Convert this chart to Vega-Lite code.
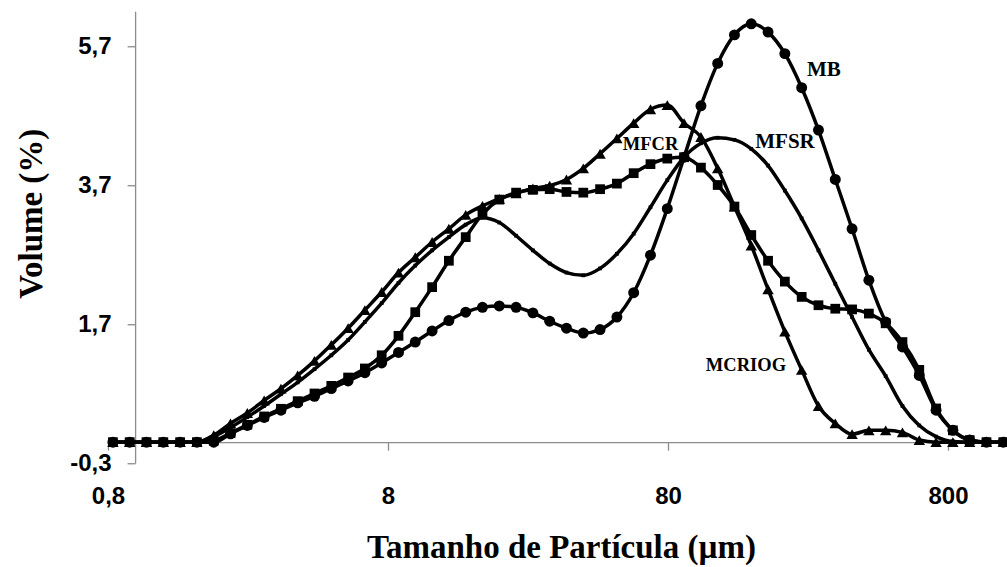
{
  "$schema": "https://vega.github.io/schema/vega-lite/v6.json",
  "width": 899,
  "height": 451.75,
  "autosize": "none",
  "padding": {"left": 108, "top": 11.25, "right": 0, "bottom": 104},
  "background": "white",
  "config": {"view": {"stroke": null}},
  "datasets": {
    "curvas": [
      {"tamanho": 0.833, "MB": 0, "MFCR": 0, "MCRIOG": 0, "MFSR": 0},
      {"tamanho": 0.956, "MB": 0, "MFCR": 0, "MCRIOG": 0, "MFSR": 0},
      {"tamanho": 1.098, "MB": 0, "MFCR": 0, "MCRIOG": 0, "MFSR": 0},
      {"tamanho": 1.261, "MB": 0, "MFCR": 0, "MCRIOG": 0, "MFSR": 0},
      {"tamanho": 1.448, "MB": 0, "MFCR": 0, "MCRIOG": 0, "MFSR": 0},
      {"tamanho": 1.662, "MB": 0, "MFCR": 0, "MCRIOG": 0, "MFSR": 0},
      {"tamanho": 1.909, "MB": 0, "MFCR": 0.02, "MCRIOG": 0.1, "MFSR": 0.08},
      {"tamanho": 2.191, "MB": 0.12, "MFCR": 0.13, "MCRIOG": 0.27, "MFSR": 0.21},
      {"tamanho": 2.516, "MB": 0.24, "MFCR": 0.25, "MCRIOG": 0.42, "MFSR": 0.36},
      {"tamanho": 2.889, "MB": 0.355, "MFCR": 0.37, "MCRIOG": 0.6, "MFSR": 0.52},
      {"tamanho": 3.317, "MB": 0.46, "MFCR": 0.48, "MCRIOG": 0.77, "MFSR": 0.69},
      {"tamanho": 3.807, "MB": 0.565, "MFCR": 0.59, "MCRIOG": 0.96, "MFSR": 0.86},
      {"tamanho": 4.371, "MB": 0.66, "MFCR": 0.7, "MCRIOG": 1.17, "MFSR": 1.05},
      {"tamanho": 5.019, "MB": 0.77, "MFCR": 0.81, "MCRIOG": 1.4, "MFSR": 1.25},
      {"tamanho": 5.763, "MB": 0.88, "MFCR": 0.93, "MCRIOG": 1.64, "MFSR": 1.47},
      {"tamanho": 6.616, "MB": 1.0, "MFCR": 1.06, "MCRIOG": 1.9, "MFSR": 1.73},
      {"tamanho": 7.596, "MB": 1.14, "MFCR": 1.25, "MCRIOG": 2.16, "MFSR": 2.0},
      {"tamanho": 8.722, "MB": 1.29, "MFCR": 1.53, "MCRIOG": 2.44, "MFSR": 2.29},
      {"tamanho": 10.01, "MB": 1.44, "MFCR": 1.87, "MCRIOG": 2.66, "MFSR": 2.54},
      {"tamanho": 11.5, "MB": 1.6, "MFCR": 2.23, "MCRIOG": 2.88, "MFSR": 2.76},
      {"tamanho": 13.2, "MB": 1.75, "MFCR": 2.61, "MCRIOG": 3.07, "MFSR": 2.95},
      {"tamanho": 15.16, "MB": 1.87, "MFCR": 2.95, "MCRIOG": 3.27, "MFSR": 3.13},
      {"tamanho": 17.4, "MB": 1.94, "MFCR": 3.28, "MCRIOG": 3.4, "MFSR": 3.23},
      {"tamanho": 19.98, "MB": 1.96, "MFCR": 3.49, "MCRIOG": 3.5, "MFSR": 3.16},
      {"tamanho": 22.94, "MB": 1.94, "MFCR": 3.59, "MCRIOG": 3.58, "MFSR": 2.97},
      {"tamanho": 26.34, "MB": 1.86, "MFCR": 3.63, "MCRIOG": 3.65, "MFSR": 2.76},
      {"tamanho": 30.24, "MB": 1.74, "MFCR": 3.64, "MCRIOG": 3.69, "MFSR": 2.57},
      {"tamanho": 34.72, "MB": 1.64, "MFCR": 3.6, "MCRIOG": 3.78, "MFSR": 2.44},
      {"tamanho": 39.87, "MB": 1.57, "MFCR": 3.59, "MCRIOG": 3.94, "MFSR": 2.4},
      {"tamanho": 45.77, "MB": 1.62, "MFCR": 3.64, "MCRIOG": 4.15, "MFSR": 2.5},
      {"tamanho": 52.56, "MB": 1.8, "MFCR": 3.72, "MCRIOG": 4.37, "MFSR": 2.71},
      {"tamanho": 60.34, "MB": 2.15, "MFCR": 3.87, "MCRIOG": 4.59, "MFSR": 3.0},
      {"tamanho": 69.28, "MB": 2.69, "MFCR": 4.0, "MCRIOG": 4.79, "MFSR": 3.38},
      {"tamanho": 79.55, "MB": 3.36, "MFCR": 4.08, "MCRIOG": 4.85, "MFSR": 3.77},
      {"tamanho": 91.34, "MB": 4.1, "MFCR": 4.1, "MCRIOG": 4.59, "MFSR": 4.1},
      {"tamanho": 104.9, "MB": 4.84, "MFCR": 3.95, "MCRIOG": 4.39, "MFSR": 4.3},
      {"tamanho": 120.4, "MB": 5.45, "MFCR": 3.7, "MCRIOG": 3.94, "MFSR": 4.38},
      {"tamanho": 138.2, "MB": 5.86, "MFCR": 3.39, "MCRIOG": 3.39, "MFSR": 4.35},
      {"tamanho": 158.7, "MB": 6.02, "MFCR": 2.98, "MCRIOG": 2.83, "MFSR": 4.22},
      {"tamanho": 182.2, "MB": 5.9, "MFCR": 2.61, "MCRIOG": 2.2, "MFSR": 3.98},
      {"tamanho": 209.2, "MB": 5.59, "MFCR": 2.31, "MCRIOG": 1.59, "MFSR": 3.62},
      {"tamanho": 240.2, "MB": 5.1, "MFCR": 2.09, "MCRIOG": 1.04, "MFSR": 3.22},
      {"tamanho": 275.8, "MB": 4.49, "MFCR": 1.97, "MCRIOG": 0.52, "MFSR": 2.76},
      {"tamanho": 316.7, "MB": 3.78, "MFCR": 1.92, "MCRIOG": 0.27, "MFSR": 2.28},
      {"tamanho": 363.6, "MB": 3.07, "MFCR": 1.91, "MCRIOG": 0.115, "MFSR": 1.8},
      {"tamanho": 417.5, "MB": 2.33, "MFCR": 1.85, "MCRIOG": 0.17, "MFSR": 1.33},
      {"tamanho": 479.3, "MB": 1.73, "MFCR": 1.71, "MCRIOG": 0.17, "MFSR": 0.95},
      {"tamanho": 550.3, "MB": 1.37, "MFCR": 1.44, "MCRIOG": 0.14, "MFSR": 0.52},
      {"tamanho": 631.9, "MB": 0.96, "MFCR": 1.04, "MCRIOG": 0.03, "MFSR": 0.24},
      {"tamanho": 725.5, "MB": 0.46, "MFCR": 0.485, "MCRIOG": 0, "MFSR": 0.08},
      {"tamanho": 833.0, "MB": 0.17, "MFCR": 0.17, "MCRIOG": 0, "MFSR": 0.01},
      {"tamanho": 956.4, "MB": 0.03, "MFCR": 0.03, "MCRIOG": 0, "MFSR": 0},
      {"tamanho": 1098, "MB": 0, "MFCR": 0, "MCRIOG": 0, "MFSR": 0},
      {"tamanho": 1261, "MB": 0, "MFCR": 0, "MCRIOG": 0, "MFSR": 0}
    ],
    "rotulosGrandes": [
      {"tamanho": 288.5, "volume": 5.35, "rotulo": "MB"},
      {"tamanho": 209.4, "volume": 4.32, "rotulo": "MFSR"}
    ],
    "rotulosPequenos": [
      {"tamanho": 69.3, "volume": 4.29, "rotulo": "MFCR"},
      {"tamanho": 151.9, "volume": 1.11, "rotulo": "MCRIOG"}
    ]
  },
  "layer": [
    {
      "data": {"name": "curvas"},
      "transform": [{"fold": ["MB", "MFSR", "MFCR", "MCRIOG"], "as": ["amostra", "volume"]}],
      "mark": {"type": "line", "interpolate": "monotone", "color": "black", "strokeWidth": 3.5},
      "encoding": {
        "x": {
          "field": "tamanho", "type": "quantitative",
          "scale": {"type": "log", "domain": [0.8, 1300], "nice": false},
          "axis": {
            "values": [0.8, 8, 80, 800],
            "labelExpr": "replace(toString(datum.value), '.', ',')",
            "offset": -20.85,
            "grid": false,
            "tickSize": 8,
            "tickColor": "#8c8c8c",
            "domainColor": "#8c8c8c",
            "domainWidth": 1.3,
            "tickWidth": 1.3,
            "labelPadding": 34,
            "labelFont": "Liberation Sans",
            "labelFontWeight": "bold",
            "labelFontSize": 24,
            "labelColor": "black",
            "labelFlush": false,
            "labelOverlap": false,
            "title": "Tamanho de Partícula (µm)",
            "titleFont": "Liberation Serif",
            "titleFontWeight": "bold",
            "titleFontSize": 33,
            "titleColor": "black",
            "titleAlign": "center",
            "titleBaseline": "alphabetic",
            "titleX": 453,
            "titleY": 115
          }
        },
        "y": {
          "field": "volume", "type": "quantitative",
          "scale": {"domain": [-0.3, 6.2], "nice": false, "zero": false},
          "axis": {
            "values": [-0.3, 1.7, 3.7, 5.7],
            "labelExpr": "replace(toString(datum.value), '.', ',')",
            "offset": -27.1,
            "grid": false,
            "tickSize": 8,
            "tickColor": "#8c8c8c",
            "domainColor": "#8c8c8c",
            "domainWidth": 1.3,
            "tickWidth": 1.3,
            "labelPadding": 16,
            "labelFont": "Liberation Sans",
            "labelFontWeight": "bold",
            "labelFontSize": 24,
            "labelColor": "black",
            "labelFlush": false,
            "labelOverlap": false,
            "title": "Volume (%)",
            "titleFont": "Liberation Serif",
            "titleFontWeight": "bold",
            "titleFontSize": 33,
            "titleColor": "black",
            "titleAngle": -90,
            "titleAlign": "center",
            "titleBaseline": "alphabetic",
            "titleX": -94,
            "titleY": 202
          }
        },
        "detail": {"field": "amostra", "type": "nominal"}
      }
    },
    {
      "data": {"name": "curvas"},
      "transform": [{"fold": ["MFSR"], "as": ["amostra", "volume"]}],
      "mark": {"type": "point", "shape": "square", "filled": true, "color": "black", "opacity": 1, "size": 14},
      "encoding": {
        "x": {"field": "tamanho", "type": "quantitative"},
        "y": {"field": "volume", "type": "quantitative"}
      }
    },
    {
      "data": {"name": "curvas"},
      "transform": [{"fold": ["MFCR"], "as": ["amostra", "volume"]}],
      "mark": {"type": "point", "shape": "square", "filled": true, "color": "black", "opacity": 1, "size": 95},
      "encoding": {
        "x": {"field": "tamanho", "type": "quantitative"},
        "y": {"field": "volume", "type": "quantitative"}
      }
    },
    {
      "data": {"name": "curvas"},
      "transform": [{"fold": ["MCRIOG"], "as": ["amostra", "volume"]}],
      "mark": {"type": "point", "shape": "triangle-up", "filled": true, "color": "black", "opacity": 1, "size": 130},
      "encoding": {
        "x": {"field": "tamanho", "type": "quantitative"},
        "y": {"field": "volume", "type": "quantitative"}
      }
    },
    {
      "data": {"name": "curvas"},
      "transform": [{"fold": ["MB"], "as": ["amostra", "volume"]}],
      "mark": {"type": "point", "shape": "circle", "filled": true, "color": "black", "opacity": 1, "size": 120},
      "encoding": {
        "x": {"field": "tamanho", "type": "quantitative"},
        "y": {"field": "volume", "type": "quantitative"}
      }
    },
    {
      "data": {"name": "rotulosGrandes"},
      "mark": {"type": "text", "font": "Liberation Serif", "fontWeight": "bold", "fontSize": 21, "color": "black", "align": "center", "baseline": "middle"},
      "encoding": {
        "x": {"field": "tamanho", "type": "quantitative"},
        "y": {"field": "volume", "type": "quantitative"},
        "text": {"field": "rotulo"}
      }
    },
    {
      "data": {"name": "rotulosPequenos"},
      "mark": {"type": "text", "font": "Liberation Serif", "fontWeight": "bold", "fontSize": 18.5, "color": "black", "align": "center", "baseline": "middle"},
      "encoding": {
        "x": {"field": "tamanho", "type": "quantitative"},
        "y": {"field": "volume", "type": "quantitative"},
        "text": {"field": "rotulo"}
      }
    }
  ]
}
